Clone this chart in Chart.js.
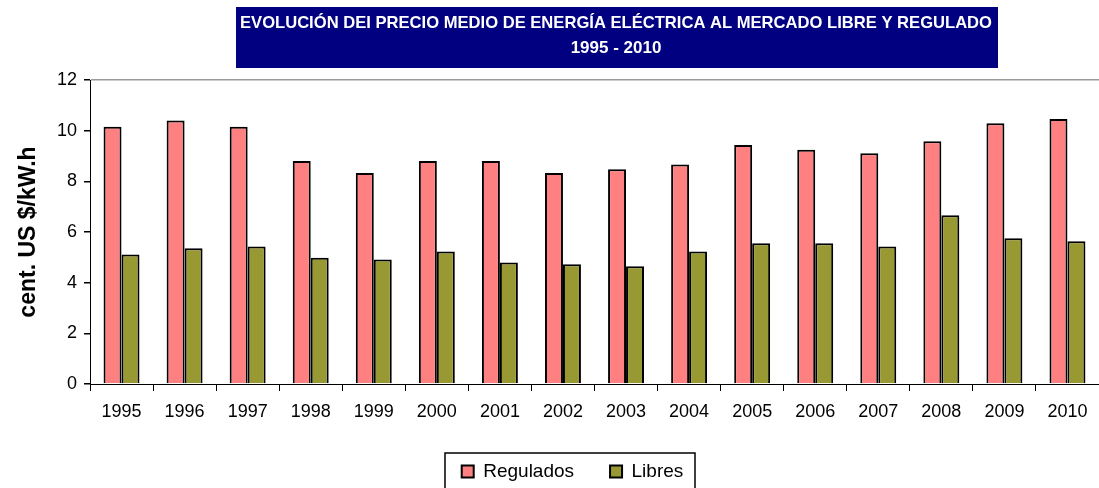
<!DOCTYPE html>
<html lang="es">
<head>
    <meta charset="UTF-8">
    <title>Evolución del precio medio de energía eléctrica</title>
    <style>
        html, body { margin: 0; padding: 0; background: #fff; }
        #wrap { width: 1099px; height: 488px; position: relative; }
    </style>
    <script src="https://cdn.jsdelivr.net/npm/chart.js"></script>
</head>
<body>
    <div id="wrap"><canvas id="chart" width="1099" height="488"></canvas></div>

    <script>
        const years = ['1995', '1996', '1997', '1998', '1999', '2000', '2001', '2002',
                       '2003', '2004', '2005', '2006', '2007', '2008', '2009', '2010'];
        const regulados = [10.15, 10.40, 10.15, 8.80, 8.33, 8.80, 8.80, 8.33,
                           8.48, 8.66, 9.43, 9.25, 9.11, 9.58, 10.29, 10.46];
        const libres = [5.11, 5.36, 5.43, 4.98, 4.91, 5.23, 4.80, 4.73,
                        4.65, 5.23, 5.56, 5.56, 5.43, 6.66, 5.75, 5.63];
        const titleLines = ['EVOLUCIÓN DEI PRECIO MEDIO DE ENERGÍA ELÉCTRICA AL MERCADO LIBRE Y REGULADO', '1995 - 2010'];

        const FONT = '"Liberation Sans", Arial, sans-serif';
        const LEGEND_SHIFT_X = 23;
        const LEGEND_SHIFT_Y = 3;

        // navy title box above the plot
        const titleBox = {
            id: 'titleBox',
            afterDraw(chart) {
                const ctx = chart.ctx;
                ctx.save();
                ctx.fillStyle = '#000080';
                ctx.fillRect(236, 7, 762, 61);
                ctx.fillStyle = '#fff';
                ctx.textAlign = 'center';
                ctx.textBaseline = 'middle';
                ctx.font = 'bold 17px ' + FONT;
                const w = ctx.measureText(titleLines[0]).width;
                const sx = 752 / w;
                ctx.save();
                ctx.translate(616, 23);
                ctx.scale(sx, 1);
                ctx.fillText(titleLines[0], 0, 0);
                ctx.restore();
                ctx.fillText(titleLines[1], 616, 48);
                ctx.restore();
            }
        };

        // move the legend a bit and put a frame around it
        const legendFrame = {
            id: 'legendFrame',
            afterLayout(chart) {
                const lg = chart.legend;
                lg.left += LEGEND_SHIFT_X;
                lg.right += LEGEND_SHIFT_X;
                lg.top += LEGEND_SHIFT_Y;
                lg.bottom += LEGEND_SHIFT_Y;
                (lg.legendHitBoxes || []).forEach(b => { b.left += LEGEND_SHIFT_X; b.top += LEGEND_SHIFT_Y; });
            },
            afterDraw(chart) {
                const boxes = chart.legend.legendHitBoxes;
                if (!boxes || !boxes.length) return;
                const first = boxes[0], last = boxes[boxes.length - 1];
                const ctx = chart.ctx;
                ctx.save();
                ctx.strokeStyle = '#000';
                ctx.lineWidth = 1.5;
                ctx.strokeRect(Math.round(first.left - 17), 453, Math.round(last.left + last.width - first.left + 28), 40);
                ctx.restore();
            }
        };

        const ctx = document.getElementById('chart').getContext('2d');
        new Chart(ctx, {
            type: 'bar',
            data: {
                labels: years,
                datasets: [{
                    label: 'Regulados',
                    data: regulados,
                    backgroundColor: '#FF8080',
                    borderColor: '#000',
                    borderWidth: 2
                }, {
                    label: 'Libres',
                    data: libres,
                    backgroundColor: '#999933',
                    borderColor: '#000',
                    borderWidth: 2
                }]
            },
            options: {
                responsive: false,
                animation: false,
                layout: { padding: { top: 80, right: 0, left: 0, bottom: 0 } },
                datasets: { bar: { categoryPercentage: 0.57, barPercentage: 1.0 } },
                scales: {
                    x: {
                        grid: { offset: true, color: 'transparent', tickColor: '#000', tickLength: 7, drawOnChartArea: false },
                        border: { color: '#000', width: 1 },
                        ticks: { color: '#000', font: { family: FONT, size: 18 }, padding: 10, maxRotation: 0 },
                        afterFit(scale) { scale.height = 39; }
                    },
                    y: {
                        min: 0, max: 12,
                        ticks: { stepSize: 2, color: '#000', font: { family: FONT, size: 18 }, padding: 7 },
                        grid: {
                            color: (c) => c.tick && c.tick.value === 12 ? '#999' : 'transparent',
                            lineWidth: 1.5,
                            tickColor: '#000',
                            tickLength: 6
                        },
                        border: { color: '#000', width: 1 },
                        title: {
                            display: true,
                            text: 'cent. US $/kW.h',
                            color: '#000',
                            font: { family: FONT, size: 23, weight: 'bold' },
                            padding: { top: 15, bottom: 0 }
                        },
                        afterFit(scale) { scale.width = 90; }
                    }
                },
                plugins: {
                    title: { display: false },
                    tooltip: { enabled: false },
                    legend: {
                        position: 'bottom',
                        labels: {
                            color: '#000',
                            font: { family: FONT, size: 19 },
                            boxWidth: 12,
                            boxHeight: 12,
                            padding: 36,
                            generateLabels(chart) {
                                return chart.data.datasets.map((d, i) => ({
                                    text: d.label,
                                    fillStyle: d.backgroundColor,
                                    strokeStyle: '#000',
                                    lineWidth: 2,
                                    datasetIndex: i,
                                    fontColor: '#000'
                                }));
                            }
                        }
                    }
                }
            },
            plugins: [titleBox, legendFrame]
        });
    </script>
</body>
</html>
